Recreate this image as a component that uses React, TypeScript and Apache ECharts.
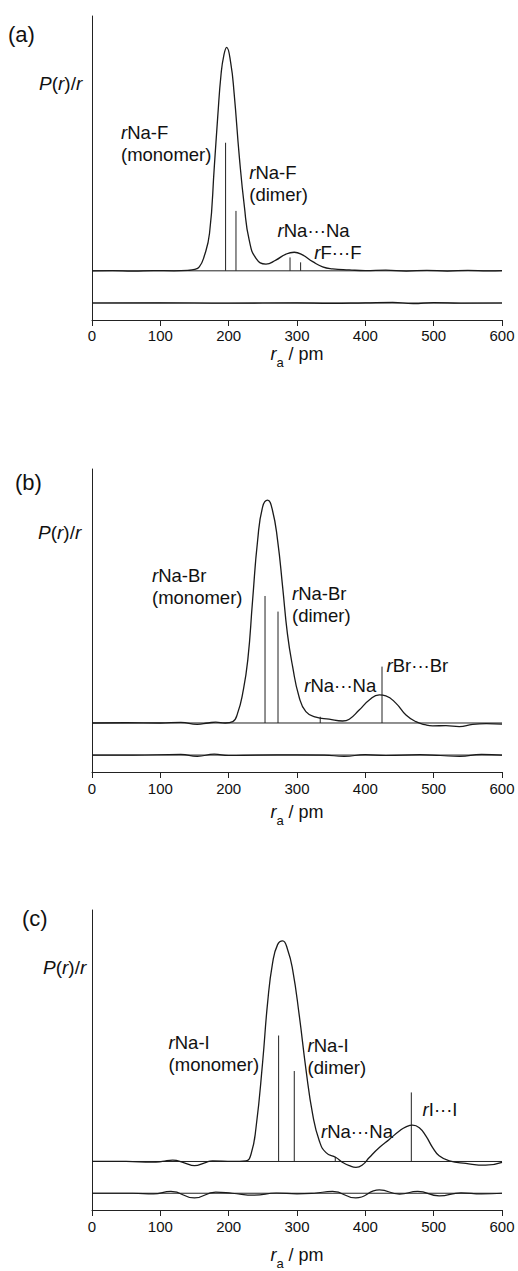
import React, { useEffect, useRef } from "react";
import * as echarts from "echarts";

// ---------- data ----------
const X_MIN = 0;
const X_MAX = 600;
const X_STEP = 100;
const Y_MIN = -22;
const Y_MAX = 114;
const RESID_OFFSET = -14.4;

const panelLetters = ["(a)", "(b)", "(c)"];

// Panel (a) NaF
const aCurve: number[][] = [
  [0, 0], [30, 0.1], [60, -0.1], [90, 0.1], [120, 0], [140, 0.2], [150, 0.6], [157, 1.8], [164, 6.3],
  [172, 16.8], [179, 46.6], [184, 69], [189, 88.4], [193, 96.5], [197, 100], [203, 93], [208, 79.4],
  [215.6, 51], [223, 28.7], [230, 13.8], [240, 5.6], [254.6, 3.0], [269, 4.8], [284, 7.5], [296, 8.3],
  [308, 7.1], [323, 4.1], [337.5, 1.8], [352, 0.9], [376.5, 0.4], [400, 0.1], [430, 0.3], [460, -0.1],
  [490, 0.2], [520, -0.1], [550, 0.2], [580, 0], [600, 0.1],
];
const aResid: number[][] = [
  [0, 0], [100, 0.1], [200, -0.1], [300, 0.1], [350, -0.2], [400, 0.1], [440, 0.3], [470, -0.3],
  [500, 0.2], [540, -0.1], [600, 0],
];
const aSticks: number[][] = [[195.5, 57.3], [210.7, 26.8], [289.8, 6.0], [305.3, 3.8]];
const aLabelText = ["{i|r}{t|Na-F}\n{t|(monomer)}", "{i|r}{t|Na-F}\n{t|(dimer)}", "{i|r}{t|Na···Na}", "{i|r}{t|F···F}"];
const aLabelPos: number[][] = [[42.4, 66.6], [230.2, 49.1], [271.6, 22.9], [325.3, 13.2]];

// Panel (b) NaBr
const bCurve: number[][] = [
  [0, 0], [50, 0.1], [100, 0], [130, 0.3], [154, -0.6], [170, 0], [181, 0.4], [195, 0], [206, 0.6],
  [213, 4.3], [220.5, 13.3], [228, 28.3], [235, 55], [242.4, 82], [249.7, 97], [257, 100], [264, 95.6],
  [271.6, 82], [279, 61], [286, 40], [293.6, 25.3], [303, 11.8], [313, 5.1], [327.8, 2.6], [347, 1.7],
  [366.7, 0.9], [376.5, 1.7], [391, 5.8], [405.8, 10.3], [420.5, 12.6], [430, 12.2], [445, 8.8],
  [459.5, 3.6], [474, 0.6], [488.8, -0.9], [498.5, -1.3], [518, -1.2], [537.5, -1.6], [557, -0.6],
  [577, -0.3], [600, -0.5],
];
const bResid: number[][] = [
  [0, 0], [60, 0], [130, 0.3], [154, -0.6], [179, 0.4], [200, -0.2], [240, 0], [300, 0.1], [340, 0],
  [369, -0.6], [400, 0.2], [430, -0.2], [480, 0.2], [510, -0.2], [538, -0.6], [570, 0.3], [600, 0],
];
const bSticks: number[][] = [[253.2, 57], [272.2, 50], [334, 2.8], [424.4, 25.3]];
const bLabelText = ["{i|r}{t|Na-Br}\n{t|(monomer)}", "{i|r}{t|Na-Br}\n{t|(dimer)}", "{i|r}{t|Na···Na}", "{i|r}{t|Br···Br}"];
const bLabelPos: number[][] = [[87.8, 71.1], [292.7, 63.2], [310.7, 21.7], [431.1, 30.7]];

// Panel (c) NaI
const cCurve: number[][] = [
  [0, 0], [50, 0], [88, -0.3], [103, 0], [118, 0.6], [135, -0.6], [150, -1.9], [165, -0.6], [176.5, 0.3],
  [206, 0], [225, 0.3], [232.7, 3.3], [240, 15.3], [249.7, 45], [257, 72], [264.3, 90], [271.6, 98.3],
  [279, 100], [286.3, 96], [293.6, 87], [303.4, 66], [313, 42], [323, 21.2], [332.7, 9.3], [342.5, 4.0],
  [357, 1.8], [366.7, -0.4], [376.5, -1.9], [386.3, -2.7], [396, -1.5], [405.8, 1.8], [420.5, 6.3],
  [435, 10], [449.8, 13.8], [459.5, 15.7], [469.2, 16.5], [479, 15.3], [488.8, 11.5], [498.5, 6.3],
  [508, 2.6], [523, 0.3], [547, -0.9], [576, -1.7], [600, -0.4],
];
const cResid: number[][] = [
  [0, 0], [60, 0], [90, -0.3], [115.5, 0.8], [150, -2.1], [181, 0.5], [205, 0], [237.5, -0.9], [270, 0.1],
  [300, -0.3], [325, 0], [352, 0.8], [386, -2.1], [420.5, 1.5], [450, -0.4], [476.6, 0.8], [508, -1.2],
  [540, 0.2], [570, -0.3], [600, 0],
];
const cSticks: number[][] = [[273.1, 57.1], [296, 41], [356, 2.1], [467.3, 31.3]];
const cLabelText = ["{i|r}{t|Na-I}\n{t|(monomer)}", "{i|r}{t|Na-I}\n{t|(dimer)}", "{i|r}{t|Na···Na}", "{i|r}{t|I···I}"];
const cLabelPos: number[][] = [[112.1, 59.1], [315.5, 57.6], [335.1, 18.7], [483.8, 28.4]];

// ---------- layout ----------
const FONT = '"Liberation Sans", Arial, sans-serif';
const INK = "#111111";
const LINE = "#222222";
const gridTops = [16, 469, 910];
const gridH = [304, 303, 303];
const tickMargin = [8, 9, 9];
const nameGaps = [19, 25, 30];
const letterPos = [[8, 34], [15, 482], [22, 918]];
const pLabelPos = [[39, 83], [38, 532], [43, 967]];

const panels = [
  { curve: aCurve, resid: aResid, sticks: aSticks, lt: aLabelText, lp: aLabelPos },
  { curve: bCurve, resid: bResid, sticks: bSticks, lt: bLabelText, lp: bLabelPos },
  { curve: cCurve, resid: cResid, sticks: cSticks, lt: cLabelText, lp: cLabelPos },
];

function buildOption() {
  const grid: any[] = [];
  const xAxis: any[] = [];
  const yAxis: any[] = [];
  const series: any[] = [];
  const graphic: any[] = [];
  const annRich = {
    i: { fontStyle: "italic", fontSize: 18.5, fontFamily: FONT, color: INK, lineHeight: 22, textBorderWidth: 0 },
    t: { fontSize: 18.5, fontFamily: FONT, color: INK, lineHeight: 22, textBorderWidth: 0 },
  };
  panels.forEach((p, k) => {
    grid.push({ left: 92, width: 410, top: gridTops[k], height: gridH[k], containLabel: false });
    xAxis.push({
      type: "value",
      gridIndex: k,
      min: X_MIN,
      max: X_MAX,
      interval: X_STEP,
      axisLine: { show: true, onZero: false, lineStyle: { color: LINE, width: 1 } },
      axisTick: { show: true, inside: false, length: 6, lineStyle: { color: LINE } },
      axisLabel: { show: true, margin: tickMargin[k], fontSize: 15, fontFamily: FONT, color: INK },
      splitLine: { show: false },
      name: "{i|r}{s|a}{n| / pm}",
      nameLocation: "middle",
      nameGap: nameGaps[k],
      nameTextStyle: {
        rich: {
          i: { fontStyle: "italic", fontSize: 18, fontFamily: FONT, color: INK, lineHeight: 30, verticalAlign: "middle" },
          s: { fontSize: 13, fontFamily: FONT, color: INK, lineHeight: 30, verticalAlign: "bottom" },
          n: { fontSize: 18, fontFamily: FONT, color: INK, lineHeight: 30, verticalAlign: "middle" },
        },
      },
    });
    yAxis.push({
      type: "value",
      gridIndex: k,
      min: Y_MIN,
      max: Y_MAX,
      axisLine: { show: true, onZero: false, lineStyle: { color: LINE, width: 1 } },
      axisTick: { show: false },
      axisLabel: { show: false },
      splitLine: { show: false },
    });
    series.push({
      type: "line", xAxisIndex: k, yAxisIndex: k, symbol: "none", silent: true,
      data: [[X_MIN, 0], [X_MAX, 0]], lineStyle: { color: LINE, width: 1 },
    });
    series.push({
      type: "line", xAxisIndex: k, yAxisIndex: k, symbol: "none", silent: true,
      data: [[X_MIN, RESID_OFFSET], [X_MAX, RESID_OFFSET]], lineStyle: { color: LINE, width: 1 },
    });
    series.push({
      type: "line", xAxisIndex: k, yAxisIndex: k, symbol: "none", silent: true, smooth: true,
      data: p.curve, lineStyle: { color: "#1a1a1a", width: 1.3 },
    });
    series.push({
      type: "line", xAxisIndex: k, yAxisIndex: k, symbol: "none", silent: true, smooth: true,
      data: p.resid.map((d) => [d[0], d[1] + RESID_OFFSET]), lineStyle: { color: "#1a1a1a", width: 1.2 },
    });
    series.push({
      type: "custom", xAxisIndex: k, yAxisIndex: k, silent: true,
      data: p.sticks,
      renderItem: (params: any, api: any) => {
        const x = api.value(0);
        const h = api.value(1);
        const p0 = api.coord([x, 0]);
        const p1 = api.coord([x, h]);
        return {
          type: "line",
          shape: { x1: p0[0], y1: p0[1], x2: p1[0], y2: p1[1] },
          style: { stroke: LINE, lineWidth: 1 },
        };
      },
    });
    series.push({
      type: "scatter", xAxisIndex: k, yAxisIndex: k, silent: true, symbolSize: 0,
      itemStyle: { color: INK, opacity: 1 },
      data: p.lp.map((pos, j) => ({ value: pos, name: p.lt[j] })),
      label: {
        show: true,
        position: [0, 0],
        align: "left",
        verticalAlign: "top",
        color: INK,
        opacity: 1,
        textBorderWidth: 0,
        textBorderColor: "transparent",
        formatter: (prm: any) => prm.name,
        rich: annRich,
      },
    });
    graphic.push({
      type: "text",
      x: letterPos[k][0],
      y: letterPos[k][1],
      style: { text: panelLetters[k], font: `22px ${FONT}`, fill: INK, verticalAlign: "middle", align: "left" },
    });
    graphic.push({
      type: "text",
      x: pLabelPos[k][0],
      y: pLabelPos[k][1],
      style: {
        text: "{i|P}{n|(}{i|r}{n|)/}{i|r}",
        fill: INK,
        verticalAlign: "middle",
        align: "left",
        rich: {
          i: { fontStyle: "italic", fontSize: 19, fontFamily: FONT, fill: INK },
          n: { fontSize: 19, fontFamily: FONT, fill: INK },
        },
      },
    });
  });
  return { animation: false, backgroundColor: "#ffffff", grid, xAxis, yAxis, series, graphic };
}

export default function App() {
  const ref = useRef<HTMLDivElement>(null);
  useEffect(() => {
    if (!ref.current) return;
    const chart = echarts.init(ref.current, undefined, { renderer: "svg" });
    chart.setOption(buildOption() as any);
    return () => chart.dispose();
  }, []);
  return (
    <div
      ref={ref}
      style={{ position: "absolute", left: 0, top: 0, width: 518, height: 1271, background: "#fff" }}
    />
  );
}
